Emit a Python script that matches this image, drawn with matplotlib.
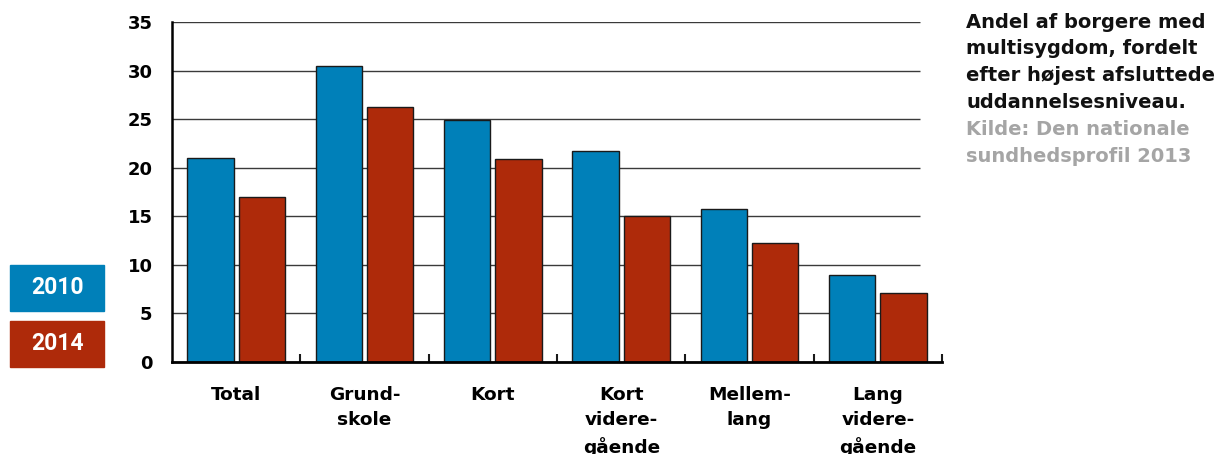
import matplotlib
matplotlib.use("Agg")
import matplotlib.pyplot as plt
import numpy as np

categories = ["Total", "Grund-\nskole", "Kort", "Kort\nvidere-\ngående", "Mellem-\nlang", "Lang\nvidere-\ngående"]
values_2010 = [21.0, 30.5, 24.9, 21.7, 15.8, 9.0]
values_2014 = [17.0, 26.3, 20.9, 15.0, 12.3, 7.1]
series_labels = ["2010", "2014"]
yticks = [0, 5, 10, 15, 20, 25, 30, 35]

BLUE = "#0080B9"
RED = "#AE2A0A"

plt.rcParams["font.family"] = ["DejaVu Sans"]

fig = plt.figure(figsize=(12.26, 4.54), dpi=100)
ax = fig.add_axes([0.1403, 0.2026, 0.6281, 0.7489])

x = np.arange(len(categories))
w = 0.36
ax.hlines(yticks, -0.5, 5.33, colors="#3a3a3a", linewidth=1.0, zorder=1)
ax.bar(x - 0.2, values_2010, width=w, color=BLUE, edgecolor="#1a1a1a", linewidth=1.0, zorder=2)
ax.bar(x + 0.2, values_2014, width=w, color=RED, edgecolor="#1a1a1a", linewidth=1.0, zorder=2)

ax.set_xlim(-0.5, 5.5)
ax.set_ylim(0, 35)
for s in ("top", "right"):
    ax.spines[s].set_visible(False)
ax.spines["left"].set_linewidth(1.8)
ax.spines["bottom"].set_linewidth(2.0)
ax.spines["left"].set_zorder(3)
ax.spines["bottom"].set_zorder(3)

ax.set_yticks(yticks)
ax.set_yticklabels([str(v) for v in yticks], fontsize=13, fontweight="bold")
ax.tick_params(axis="y", length=0, pad=14)

ax.set_xticks(x)
ax.set_xticklabels(categories, fontsize=13.3, fontweight="bold", linespacing=1.5, va="top")
ax.tick_params(axis="x", which="major", length=0, pad=17)
ax.set_xticks(np.arange(0.5, 6, 1.0), minor=True)
ax.tick_params(axis="x", which="minor", direction="in", length=6, width=1.5, color="#1a1a1a")

# legend boxes on the left
for i, (lab, col) in enumerate(zip(series_labels, [BLUE, RED])):
    y0 = 1 - (265 + i * 56) / 454
    fig.patches.append(plt.Rectangle((10 / 1226, y0 - 46 / 454), 94 / 1226, 46 / 454,
                                     transform=fig.transFigure, color=col, zorder=0))
    fig.text(57 / 1226, y0 - 23 / 454, lab, color="white", fontsize=16.5, fontweight="bold",
             family=["Roboto", "DejaVu Sans"], ha="center", va="center")

title_lines = ["Andel af borgere med", "multisygdom, fordelt", "efter højest afsluttede", "uddannelsesniveau."]
source_lines = ["Kilde: Den nationale", "sundhedsprofil 2013"]
for i, line in enumerate(title_lines + source_lines):
    col = "#111111" if i < len(title_lines) else "#a5a5a5"
    fig.text(966 / 1226, 1 - (22 + i * 26.8) / 454, line, color=col, fontsize=14,
             fontweight="bold", ha="left", va="center")

fig.savefig("out.png", dpi=100)
